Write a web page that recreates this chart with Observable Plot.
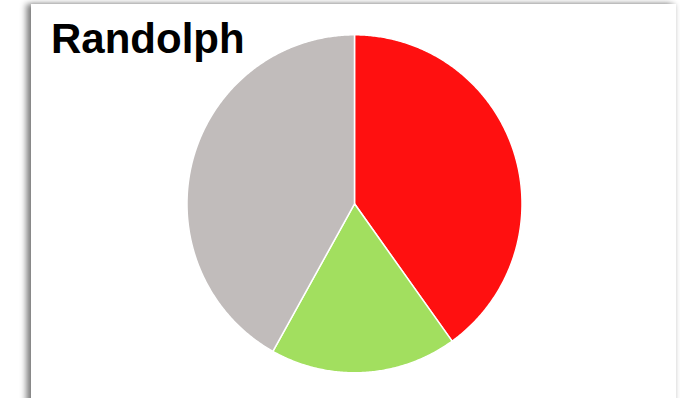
<!DOCTYPE html>
<html>
<head>
<meta charset="utf-8">
<script src="https://cdn.jsdelivr.net/npm/d3@7"></script>
<script src="https://cdn.jsdelivr.net/npm/@observablehq/plot@0.6"></script>
<style>
  html, body { margin: 0; padding: 0; background: #ffffff; overflow: hidden; }
  #wrap { position: relative; width: 680px; height: 398px; overflow: hidden; background: #fff; }
  #card { position: absolute; left: 31px; top: 4px; width: 645px; height: 440px; background: #fff;
          box-shadow: -5px 0 6px rgba(0,0,0,0.45), 0 0 5px rgba(0,0,0,0.18); }
  #title { position: absolute; left: 51px; top: 12px; margin: 0; font-family: "Liberation Sans", Arial, sans-serif;
           font-weight: bold; font-size: 42px; line-height: 54px; color: #000; }
  #chart { position: absolute; left: 0; top: 0; }
</style>
</head>
<body>
<div id="wrap">
  <div id="card"></div>
  <div id="chart"></div>
  <h1 id="title">Randolph</h1>
</div>
<script>
const title = "Randolph";
const categories = ["A", "B", "C"];
const values = [40.1, 18.0, 41.9];
const colors = ["#ff1010", "#a2df5f", "#c1bcbb"];

const slices = categories.map((c, i) => ({category: c, value: values[i]}));
const pie = d3.pie().sort(null).value(d => d.value)(slices);

// Outline of each slice in unit coordinates (center -> arc -> center)
const pts = [];
pie.forEach(a => {
  const cat = a.data.category;
  pts.push({category: cat, x: 0, y: 0});
  const n = Math.max(2, Math.ceil((a.endAngle - a.startAngle) / (Math.PI / 360)));
  for (let k = 0; k <= n; k++) {
    const t = a.startAngle + (a.endAngle - a.startAngle) * k / n;
    pts.push({category: cat, x: Math.sin(t), y: Math.cos(t)});
  }
  pts.push({category: cat, x: 0, y: 0});
});

const cx = 354, cy = 203.3, rx = 167.5, ry = 169;
const chart = Plot.plot({
  width: 680,
  height: 398,
  margin: 0,
  x: {domain: [-1, 1], range: [cx - rx, cx + rx], axis: null},
  y: {domain: [-1, 1], range: [cy + ry, cy - ry], axis: null},
  color: {domain: categories, range: colors},
  style: {background: "transparent"},
  marks: [
    Plot.line(pts, {x: "x", y: "y", z: "category", fill: "category", stroke: "#ffffff", strokeWidth: 1.5, strokeLinejoin: "round", curve: "linear"})
  ]
});
document.getElementById("chart").appendChild(chart);
</script>
</body>
</html>
